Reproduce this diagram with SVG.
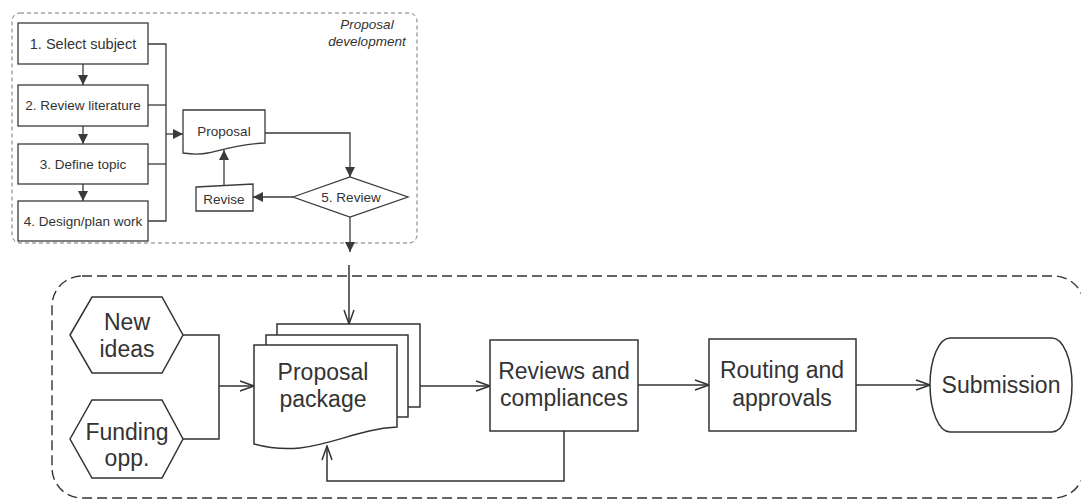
<svg xmlns="http://www.w3.org/2000/svg" width="1081" height="502" viewBox="0 0 1081 502">
<style>
  .bg{fill:#ffffff}
  .panel{fill:none;stroke:#777;stroke-width:1;stroke-dasharray:4 3}
  .outer{fill:none;stroke:#333;stroke-width:1.4;stroke-dasharray:10 5}
  .sbox{fill:#fff;stroke:#3a3a3a;stroke-width:1.3}
  .bbox{fill:#fff;stroke:#333;stroke-width:1.5}
  .scon{fill:none;stroke:#3a3a3a;stroke-width:1.3}
  .bcon{fill:none;stroke:#333;stroke-width:1.5}
  .st{font-family:"Liberation Sans",Arial,Helvetica,sans-serif;font-size:13.5px;fill:#333;text-anchor:middle}
  .it{font-style:italic}
  .bt{font-family:"Liberation Sans",Arial,Helvetica,sans-serif;font-size:23px;fill:#333;text-anchor:middle}
</style>
<defs>
  <marker id="fa" markerUnits="userSpaceOnUse" viewBox="0 0 10 10" markerWidth="10" markerHeight="10" refX="10" refY="5" orient="auto">
    <path d="M0,0 L10,5 L0,10 Z" fill="#3a3a3a"/>
  </marker>
  <marker id="oa" markerUnits="userSpaceOnUse" viewBox="0 0 16 12" markerWidth="16" markerHeight="12" refX="15" refY="6" orient="auto">
    <path d="M1,1 L15,6 L1,11" fill="none" stroke="#333" stroke-width="1.5"/>
  </marker>
</defs>
<rect class="bg" x="0" y="0" width="1081" height="502"/>

<!-- Proposal development panel -->
<g id="panel-proposal-development">
  <rect class="panel" x="12" y="13" width="405" height="230" rx="8"/>
  <text class="st it" x="367" y="29">Proposal</text>
  <text class="st it" x="367" y="46">development</text>
</g>

<!-- Outer process boundary -->
<g id="panel-process">
  <rect class="outer" x="52" y="276" width="1032" height="222" rx="30"/>
</g>

<g id="connectors">
  <!-- top panel -->
  <path class="scon" d="M83,64 V85" marker-end="url(#fa)"/>
  <path class="scon" d="M83,126 V144" marker-end="url(#fa)"/>
  <path class="scon" d="M83,184 V201" marker-end="url(#fa)"/>
  <path class="scon" d="M148,44 H166 V221 H148"/>
  <path class="scon" d="M148,105 H166"/>
  <path class="scon" d="M148,164 H166"/>
  <path class="scon" d="M166,134 H183" marker-end="url(#fa)"/>
  <path class="scon" d="M265,133 H350 V177" marker-end="url(#fa)"/>
  <path class="scon" d="M293,197 H253" marker-end="url(#fa)"/>
  <path class="scon" d="M224,186 V150" marker-end="url(#fa)"/>
  <path class="scon" d="M350,217 V252" marker-end="url(#fa)"/>
  <!-- bottom -->
  <path class="bcon" d="M349,265 V324" marker-end="url(#oa)"/>
  <path class="bcon" d="M183,335 H219 V439 H183"/>
  <path class="bcon" d="M219,386 H254" marker-end="url(#oa)"/>
  <path class="bcon" d="M420,386 H490" marker-end="url(#oa)"/>
  <path class="bcon" d="M638,385 H709" marker-end="url(#oa)"/>
  <path class="bcon" d="M856,385 H930" marker-end="url(#oa)"/>
  <path class="bcon" d="M564,431 V481 H327 V446" marker-end="url(#oa)"/>
</g>

<g id="node-select-subject">
  <rect class="sbox" x="18" y="23" width="130" height="41"/>
  <text class="st" x="83" y="49" style="font-size:14.5px">1. Select subject</text>
</g>
<g id="node-review-literature">
  <rect class="sbox" x="18" y="85" width="130" height="41"/>
  <text class="st" x="83" y="110">2. Review literature</text>
</g>
<g id="node-define-topic">
  <rect class="sbox" x="18" y="144" width="130" height="40"/>
  <text class="st" x="83" y="169">3. Define topic</text>
</g>
<g id="node-design-plan">
  <rect class="sbox" x="18" y="201" width="130" height="40"/>
  <text class="st" x="83" y="226">4. Design/plan work</text>
</g>
<g id="node-proposal">
  <path class="sbox" d="M183,110 H265 V143 C240,144 222,150 208,153 C198,155 190,154 183,153 Z"/>
  <text class="st" x="224" y="136">Proposal</text>
</g>
<g id="node-review">
  <polygon class="sbox" points="293,197 350,177 408,197 350,217"/>
  <text class="st" x="351" y="202">5. Review</text>
</g>
<g id="node-revise">
  <path class="sbox" d="M196,187 L253,184 V211 H196 Z"/>
  <text class="st" x="224" y="204">Revise</text>
</g>

<g id="node-new-ideas">
  <polygon class="bbox" points="70,335 92,297 162,297 183,335 162,373 92,373"/>
  <text class="bt" x="127" y="330">New</text>
  <text class="bt" x="127" y="357">ideas</text>
</g>
<g id="node-funding">
  <polygon class="bbox" points="70,439 92,400 162,400 183,439 162,478 92,478"/>
  <text class="bt" x="127" y="440">Funding</text>
  <text class="bt" x="127" y="466">opp.</text>
</g>
<g id="node-proposal-package">
  <rect class="bbox" x="277" y="324" width="143" height="83"/>
  <rect class="bbox" x="266" y="335" width="142" height="82"/>
  <path class="bbox" d="M254,345 H397 V427 C360,429 335,444 300,448 C280,450 265,447 254,444 Z"/>
  <text class="bt" x="323" y="380">Proposal</text>
  <text class="bt" x="323" y="407">package</text>
</g>
<g id="node-reviews-compliances">
  <rect class="bbox" x="490" y="340" width="148" height="91"/>
  <text class="bt" x="564" y="379">Reviews and</text>
  <text class="bt" x="564" y="406">compliances</text>
</g>
<g id="node-routing-approvals">
  <rect class="bbox" x="709" y="339" width="147" height="92"/>
  <text class="bt" x="782" y="378">Routing and</text>
  <text class="bt" x="782" y="406">approvals</text>
</g>
<g id="node-submission">
  <rect class="bbox" x="930" y="338" width="142" height="94" rx="20" ry="47"/>
  <text class="bt" x="1001" y="393">Submission</text>
</g>
</svg>
